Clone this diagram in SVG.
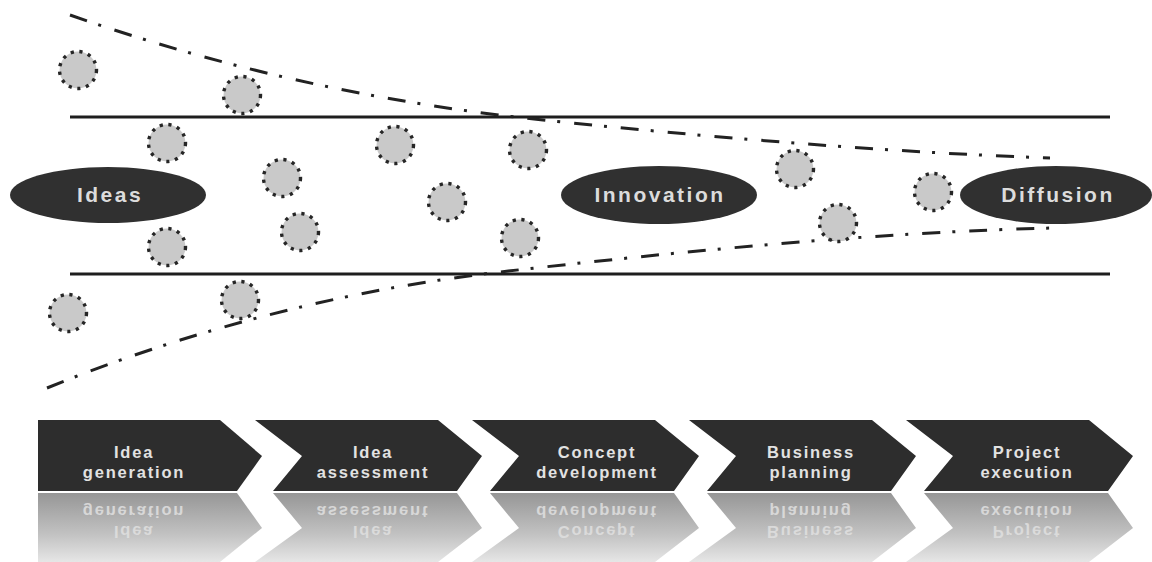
<svg xmlns="http://www.w3.org/2000/svg" width="1152" height="562" viewBox="0 0 1152 562">
  <defs>
    <style>
      .rail { stroke: #1e1e1e; stroke-width: 3; fill: none; }
      .funnel { stroke: #222; stroke-width: 3; fill: none; stroke-dasharray: 18 12 3 14; }
      .dot { fill: #c9c9c9; stroke: #262626; stroke-width: 3.4; stroke-dasharray: 3.2 5.6; }
      .oval { fill: #303030; }
      .oval-label { font-family: "Liberation Sans", Arial, sans-serif; font-weight: bold; font-size: 21px; letter-spacing: 2.5px; fill: #dcdcdc; text-anchor: middle; }
      .stage { fill: #2d2d2d; }
      .stage-label { font-family: "Liberation Sans", Arial, sans-serif; font-weight: bold; font-size: 16.5px; letter-spacing: 1.8px; fill: #e2e2e2; text-anchor: middle; }
      .mirror { fill: url(#fade); }
      .mirror-label { font-family: "Liberation Sans", Arial, sans-serif; font-weight: bold; font-size: 16.5px; letter-spacing: 1.8px; fill: #e0e0e0; text-anchor: middle; }
    </style>
    <linearGradient id="fade" gradientUnits="userSpaceOnUse" x1="0" y1="493" x2="0" y2="562">
      <stop offset="0" stop-color="#969696"/>
      <stop offset="0.6" stop-color="#c2c2c2"/>
      <stop offset="1" stop-color="#e6e6e6"/>
    </linearGradient>
    <!-- stage arrow: left notch, right tip; x0 = 0 -->
    <path id="chev" d="M0,420 L183,420 L227,456 L202,491 L18,491 L47,456 Z"/>
    <path id="chev-first" d="M0,420 L182,420 L224,456 L199,491 L0,491 Z"/>
    <path id="chev-m" d="M18,493 L202,493 L227,528 L183,562 L0,562 L47,528 Z"/>
    <path id="chev-first-m" d="M0,493 L199,493 L224,528 L182,562 L0,562 Z"/>
  </defs>

  <rect width="1152" height="562" fill="#ffffff"/>

  <!-- channel rails -->
  <g id="channel">
    <line class="rail" x1="70" y1="117" x2="1110" y2="117"/>
    <line class="rail" x1="70" y1="274" x2="1110" y2="274"/>
  </g>

  <!-- narrowing funnel bounds -->
  <g id="connectors">
    <path class="funnel" d="M70,15 C170,50 330,98 543,120 C693,135.5 880,152 1050,158"/>
    <path class="funnel" d="M47,388 C140,350 300,295 500,272 C680,251.3 880,232 1053,228"/>
  </g>

  <!-- idea particles -->
  <g id="particles">
    <circle class="dot" cx="78" cy="70" r="18.5"/>
    <circle class="dot" cx="242" cy="95" r="18.5"/>
    <circle class="dot" cx="167" cy="143" r="18.5"/>
    <circle class="dot" cx="395" cy="145" r="18.5"/>
    <circle class="dot" cx="528" cy="150" r="18.5"/>
    <circle class="dot" cx="282" cy="178" r="18.5"/>
    <circle class="dot" cx="447" cy="202" r="18.5"/>
    <circle class="dot" cx="300" cy="232" r="18.5"/>
    <circle class="dot" cx="167" cy="247" r="18.5"/>
    <circle class="dot" cx="520" cy="238" r="18.5"/>
    <circle class="dot" cx="795" cy="169" r="18.5"/>
    <circle class="dot" cx="933" cy="192" r="18.5"/>
    <circle class="dot" cx="838" cy="223" r="18.5"/>
    <circle class="dot" cx="68" cy="313" r="18.5"/>
    <circle class="dot" cx="240" cy="300" r="18.5"/>
  </g>

  <!-- phase nodes -->
  <g id="node-ideas">
    <ellipse class="oval" cx="108" cy="195" rx="98" ry="28"/>
    <text class="oval-label" x="110" y="202">Ideas</text>
  </g>
  <g id="node-innovation">
    <ellipse class="oval" cx="659" cy="195" rx="98" ry="29"/>
    <text class="oval-label" x="660" y="202">Innovation</text>
  </g>
  <g id="node-diffusion">
    <ellipse class="oval" cx="1056" cy="195" rx="96" ry="29"/>
    <text class="oval-label" x="1058" y="202">Diffusion</text>
  </g>

  <!-- process stages -->
  <g id="stage-1">
    <use href="#chev-first" x="38" class="stage"/>
    <text class="stage-label" x="134" y="458">Idea</text>
    <text class="stage-label" x="134" y="478">generation</text>
  </g>
  <g id="stage-2">
    <use href="#chev" x="255" class="stage"/>
    <text class="stage-label" x="373" y="458">Idea</text>
    <text class="stage-label" x="373" y="478">assessment</text>
  </g>
  <g id="stage-3">
    <use href="#chev" x="472" class="stage"/>
    <text class="stage-label" x="597" y="458">Concept</text>
    <text class="stage-label" x="597" y="478">development</text>
  </g>
  <g id="stage-4">
    <use href="#chev" x="689" class="stage"/>
    <text class="stage-label" x="811" y="458">Business</text>
    <text class="stage-label" x="811" y="478">planning</text>
  </g>
  <g id="stage-5">
    <use href="#chev" x="906" class="stage"/>
    <text class="stage-label" x="1027" y="458">Project</text>
    <text class="stage-label" x="1027" y="478">execution</text>
  </g>

  <!-- mirrored reflection of the stage strip -->
  <g id="reflection">
    <use href="#chev-first-m" x="38" class="mirror"/>
    <use href="#chev-m" x="255" class="mirror"/>
    <use href="#chev-m" x="472" class="mirror"/>
    <use href="#chev-m" x="689" class="mirror"/>
    <use href="#chev-m" x="906" class="mirror"/>
    <g transform="translate(0,984) scale(1,-1)" opacity="0.85">
      <text class="mirror-label" x="134" y="458">Idea</text>
      <text class="mirror-label" x="134" y="478">generation</text>
      <text class="mirror-label" x="373" y="458">Idea</text>
      <text class="mirror-label" x="373" y="478">assessment</text>
      <text class="mirror-label" x="597" y="458">Concept</text>
      <text class="mirror-label" x="597" y="478">development</text>
      <text class="mirror-label" x="811" y="458">Business</text>
      <text class="mirror-label" x="811" y="478">planning</text>
      <text class="mirror-label" x="1027" y="458">Project</text>
      <text class="mirror-label" x="1027" y="478">execution</text>
    </g>
  </g>
</svg>
